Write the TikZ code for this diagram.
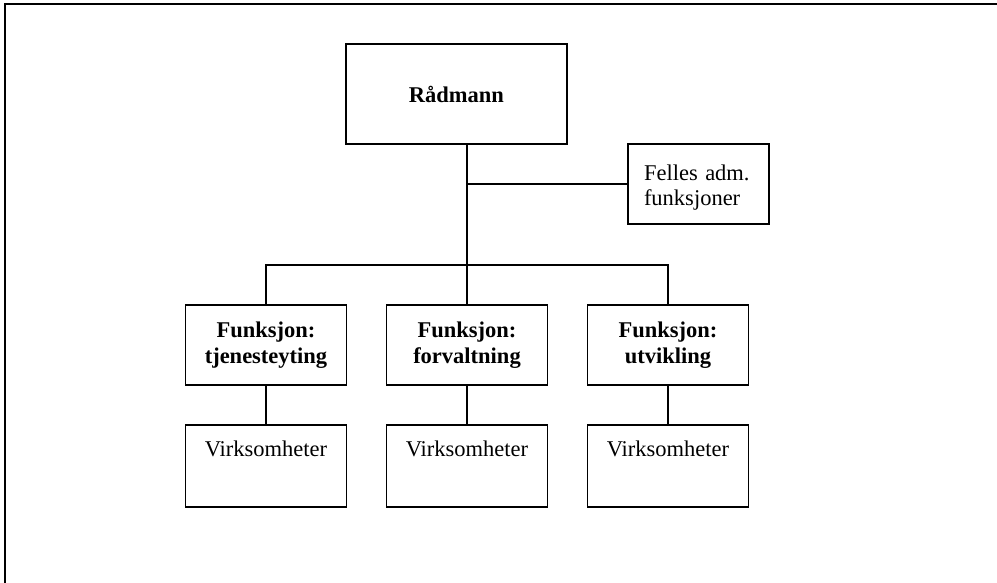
\documentclass[tikz,border=0pt]{standalone}
\usepackage{fontspec}
\setmainfont{Liberation Serif}
\begin{document}
\begin{tikzpicture}[x=1bp,y=-1bp,
  line width=1.5bp,
  txt/.style={font=\fontsize{22.5bp}{26bp}\selectfont},
  box/.style={draw, rectangle, inner sep=0pt, txt},
  topbox/.style={box, bold, minimum width=221bp, minimum height=100bp},
  bold/.style={font=\fontsize{22.5bp}{26bp}\selectfont\bfseries},
  funcbox/.style={box, bold, align=center, minimum width=161bp, minimum height=80bp},
  unitbox/.style={box, minimum width=161bp, text height=31bp, text depth=51bp},
  link/.style={draw, line width=1.5bp}]
  \useasboundingbox (0,0) rectangle (997,583);
  % page frame (only its top and left edges fall inside the picture)
  \draw[line width=2bp] (997,3.7) -- (5,3.7) -- (5,583);

  % top level
  \node[topbox] (rad) at (456.5,94) {Rådmann};
  \node[box, align=left, minimum width=141bp, minimum height=80bp, text width=109bp,
        font=\fontsize{22.5bp}{25bp}\selectfont]
    (felles) at (698.5,184) {\rule{0pt}{22bp}Felles adm.\\funksjoner};

  % functions
  \node[funcbox] (f1) at (266,345) {Funksjon:\\tjenesteyting};
  \node[funcbox] (f2) at (467,345) {Funksjon:\\forvaltning};
  \node[funcbox] (f3) at (668,345) {Funksjon:\\utvikling};

  % units below each function
  \node[unitbox] (v1) at (266,466) {Virksomheter};
  \node[unitbox] (v2) at (467,466) {Virksomheter};
  \node[unitbox] (v3) at (668,466) {Virksomheter};

  \coordinate (bus) at (467,265);

  % connectors
  \draw[link] (rad.south -| f2.north) -- (f2.north);
  \draw[link] (f2.north |- felles.west) -- (felles.west);
  \draw[link] (f1.north) |- (bus) -| (f3.north);
  \draw[link] (f1.south) -- (v1.north);
  \draw[link] (f2.south) -- (v2.north);
  \draw[link] (f3.south) -- (v3.north);
\end{tikzpicture}
\end{document}
